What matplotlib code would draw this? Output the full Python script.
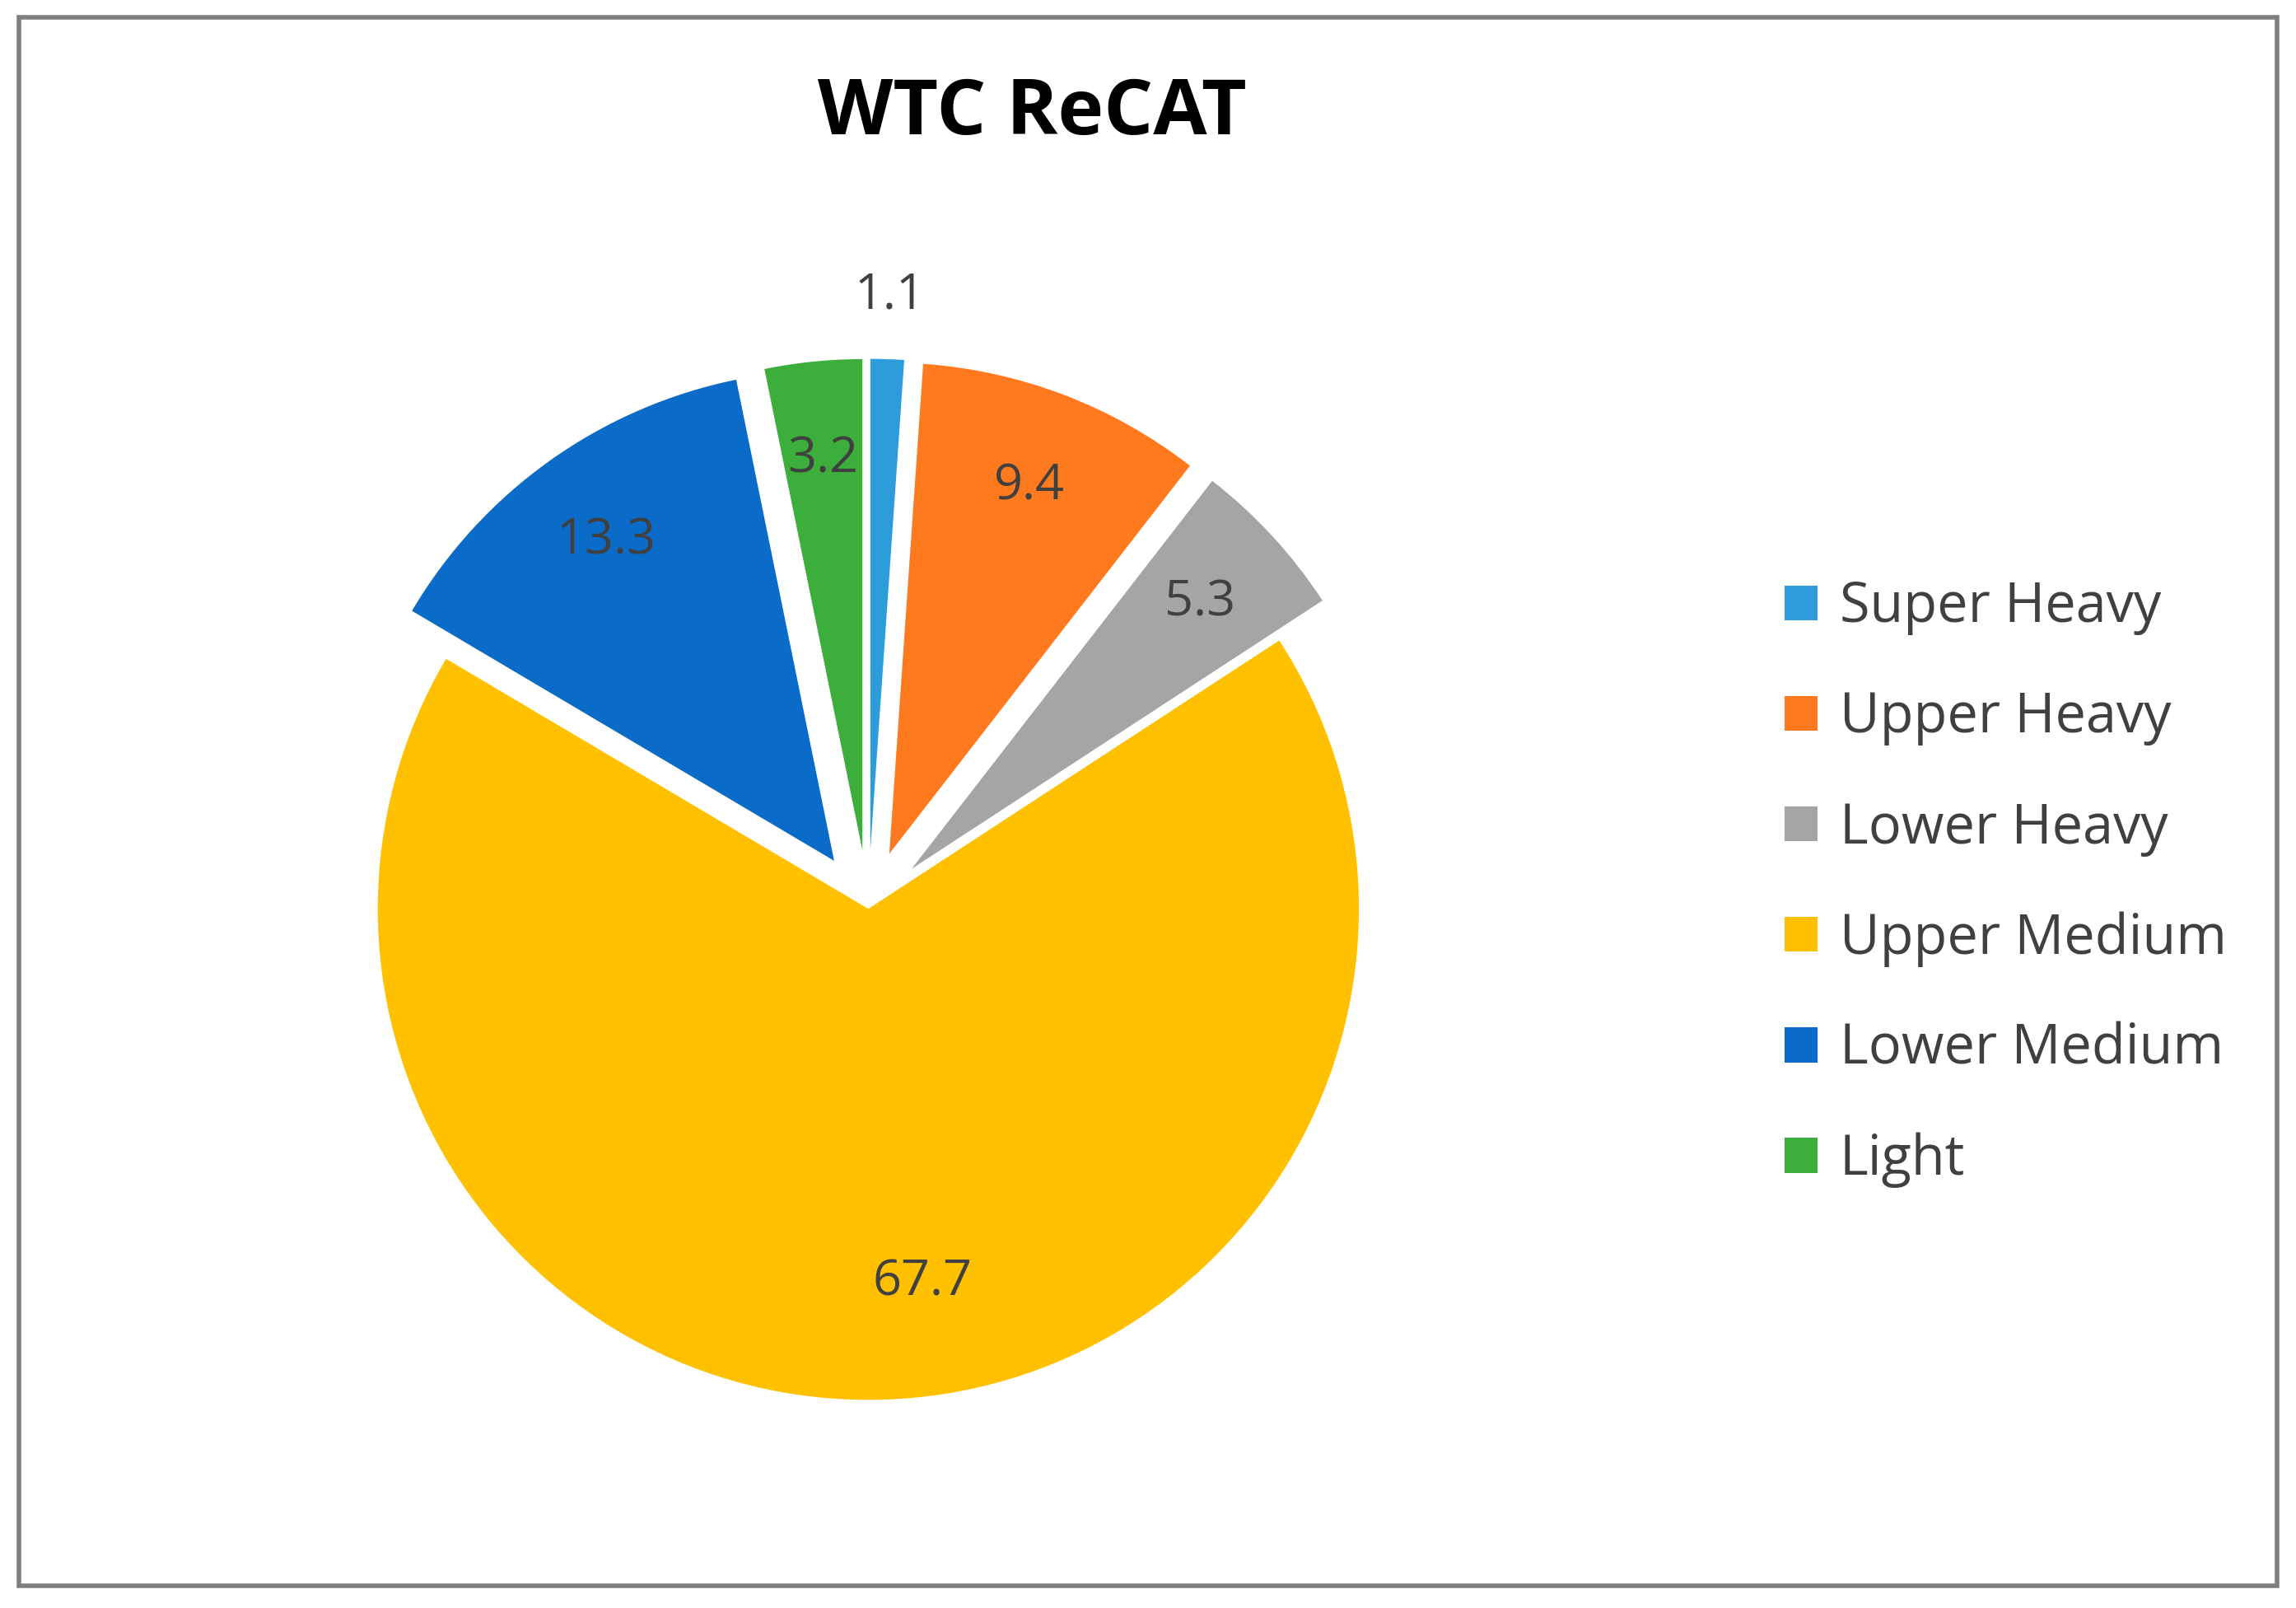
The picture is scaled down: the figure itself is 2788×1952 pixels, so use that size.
import matplotlib
matplotlib.use("Agg")
import matplotlib.pyplot as plt
from matplotlib.patches import Rectangle
import numpy as np

categories = ["Super Heavy", "Upper Heavy", "Lower Heavy", "Upper Medium", "Lower Medium", "Light"]
values = [1.1, 9.4, 5.3, 67.7, 13.3, 3.2]
colors = ["#2E9BDB", "#FF7A1F", "#A5A5A5", "#FFC000", "#0B6BC8", "#3CAE3C"]
explode = [0.12, 0.12, 0.12, 0.0, 0.12, 0.12]

plt.rcParams["font.family"] = ["Open Sans", "DejaVu Sans"]

W, H = 1568, 1097
R = 335
CX, CY = 593, H - 620
fig = plt.figure(figsize=(13.94, 9.76), dpi=200)
ax = fig.add_axes([0, 0, 1, 1])

ax.add_patch(Rectangle((13, H - 1082), 1542, 1070, fill=False, edgecolor="#7f7f7f", lw=2))

# matplotlib's explode offset is not scaled by radius, so scale it here
wedges, texts = ax.pie(values, colors=colors, explode=[e * R for e in explode],
                       startangle=90, counterclock=False,
                       center=(CX, CY), radius=R, frame=True,
                       labels=[f"{v:.1f}" for v in values], labeldistance=0.8,
                       wedgeprops=dict(linewidth=0),
                       textprops=dict(fontsize=22, color="#404040", ha="center", va="center"))
ax.set_xlim(0, W); ax.set_ylim(0, H)
ax.set_aspect("auto")
ax.axis("off")
ang = np.deg2rad(90 - values[0] / 100 * 360 / 2)
texts[0].set_position((CX + R * 1.25 * np.cos(ang), CY + R * 1.25 * np.sin(ang)))
texts[3].set_position((630, H - 875))

ax.text(705, H - 78, "WTC ReCAT", fontsize=34, fontweight="bold", ha="center", va="center", color="black")

ax.legend(wedges, categories, loc="center left", bbox_to_anchor=(1185 / W, 1 - 603 / H),
          frameon=False, fontsize=24, handlelength=0.6, handleheight=0.6,
          labelspacing=1.0, handletextpad=0.4, labelcolor="#404040")
fig.savefig("out.png", dpi=200)
